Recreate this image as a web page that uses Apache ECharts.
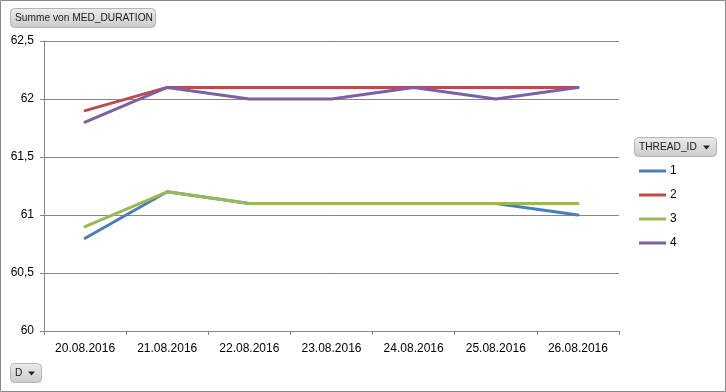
<!DOCTYPE html>
<html><head><meta charset="utf-8">
<script src="https://cdn.jsdelivr.net/npm/echarts@6/dist/echarts.min.js"></script>
<style>html,body{margin:0;padding:0;background:#fff}#c{width:726px;height:392px}</style>
</head><body><div id="c"></div>
<script>
const categories = ['20.08.2016','21.08.2016','22.08.2016','23.08.2016','24.08.2016','25.08.2016','26.08.2016'];
const seriesNames = ['1','2','3','4'];
const s1 = [60.8, 61.2, 61.1, 61.1, 61.1, 61.1, 61.0];
const s2 = [61.9, 62.1, 62.1, 62.1, 62.1, 62.1, 62.1];
const s3 = [60.9, 61.2, 61.1, 61.1, 61.1, 61.1, 61.1];
const s4 = [61.8, 62.1, 62.0, 62.0, 62.1, 62.0, 62.1];
const colors = ['#4A7EBB', '#BE4B48', '#98B954', '#7D60A0'];
const FONT = 'Liberation Sans';

const chart = echarts.init(document.getElementById('c'), null, {renderer: 'canvas'});
const grey = '#868686';
function button(x, y, w, h, label, arrow) {
  const els = [{
    type: 'rect', shape: {x: x + 0.5, y: y + 0.5, width: w, height: h, r: 4},
    style: {fill: new echarts.graphic.LinearGradient(0, 0, 0, 1, [{offset: 0, color: '#ECECEC'}, {offset: 1, color: '#CBCBCB'}]), stroke: '#B4B4B4', lineWidth: 1}
  }, {
    type: 'text', x: x + 5, y: y + h / 2 + 1,
    style: {text: label, font: '10.2px "' + FONT + '"', fill: '#1a1a1a', verticalAlign: 'middle'}
  }];
  if (arrow) {
    els.push({type: 'polygon', shape: {points: [[x + w - 13, y + h / 2 - 1], [x + w - 6, y + h / 2 - 1], [x + w - 9.5, y + h / 2 + 3]]}, style: {fill: '#222'}});
  }
  return els;
}
const series = [s1, s2, s3, s4].map((d, i) => ({
  name: seriesNames[i], type: 'line', data: d, symbol: 'none',
  lineStyle: {width: 3, color: colors[i], cap: 'round'}, itemStyle: {color: colors[i]}, z: 2 + i
}));
chart.setOption({
  animation: false,
  textStyle: {fontFamily: FONT},
  grid: {left: 44, right: 107, top: 41, bottom: 61},
  legend: {
    orient: 'vertical', left: 639, top: 164, padding: 0, icon: 'rect', itemWidth: 27, itemHeight: 3,
    itemGap: 10, data: seriesNames,
    textStyle: {fontSize: 12, color: '#000', fontFamily: FONT, lineHeight: 14, padding: [0, 0, 0, -1]}
  },
  xAxis: {
    type: 'category', data: categories, boundaryGap: true,
    axisLine: {lineStyle: {color: grey}},
    axisTick: {show: true, length: 4, lineStyle: {color: grey}},
    axisLabel: {fontSize: 12, color: '#000', margin: 12, fontFamily: FONT}
  },
  yAxis: {
    type: 'value', min: 60, max: 62.5, interval: 0.5,
    axisLine: {show: true, lineStyle: {color: grey}},
    axisTick: {show: true, length: 4, lineStyle: {color: grey}},
    axisLabel: {fontSize: 12, color: '#000', margin: 10, fontFamily: FONT,
      formatter: v => String(v).replace('.', ',')},
    splitLine: {show: true, lineStyle: {color: grey}}
  },
  series: series,
  graphic: [
    {type: 'rect', shape: {x: 0.5, y: 0.5, width: 725, height: 391}, style: {fill: 'none', stroke: '#8A8A8A', lineWidth: 1}, z: 100},
    ...button(10, 8, 145, 19, 'Summe von MED_DURATION', false),
    ...button(634, 137, 82, 19, 'THREAD_ID', true),
    ...button(10, 363, 31, 19, 'D', true)
  ]
});
</script></body></html>
